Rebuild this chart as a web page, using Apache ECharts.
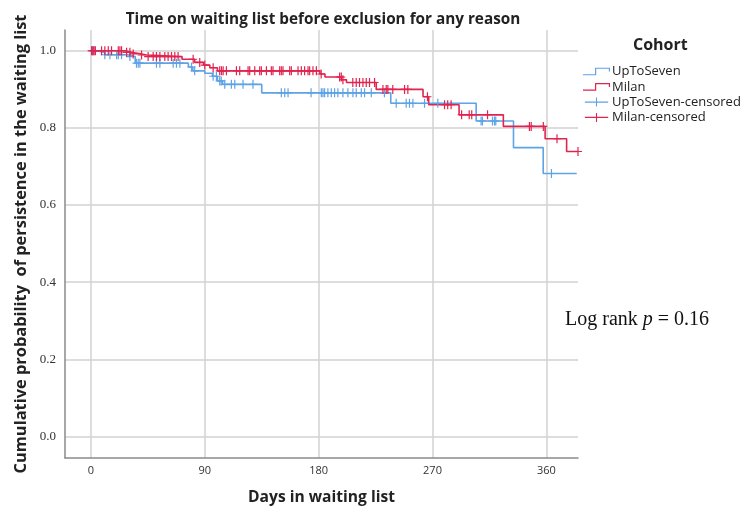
<!DOCTYPE html>
<html>
<head>
<meta charset="utf-8">
<script src="https://cdn.jsdelivr.net/npm/echarts@6/dist/echarts.min.js"></script>
<style>html,body{margin:0;padding:0;background:#fff;}#c{width:745px;height:508px;}</style>
</head>
<body>
<div id="c"></div>
<script>
// ---- data ----
const upTimes  = [0, 4.5, 11, 29, 35, 77, 80.5, 90, 96, 100, 104, 135, 237, 304.5, 334, 357.5, 384];
const upSurv   = [1.0, 0.996, 0.990, 0.985, 0.968, 0.958, 0.948, 0.942, 0.934, 0.922, 0.913, 0.891, 0.864, 0.818, 0.749, 0.682, 0.682];
const milanTimes = [0, 27, 32, 39, 44, 72, 82, 89, 94, 100, 181, 185, 198, 202, 225.5, 262.5, 267, 291, 326, 359, 376, 385];
const milanSurv  = [1.0, 0.996, 0.992, 0.989, 0.985, 0.978, 0.970, 0.963, 0.956, 0.948, 0.940, 0.932, 0.925, 0.918, 0.900, 0.881, 0.860, 0.834, 0.804, 0.772, 0.739, 0.739];
const upCensor = [1, 2, 11, 15, 20.3, 21.6, 24.2, 30.8, 36, 37.4, 38.7, 51.8, 54.5, 65, 67.6, 70.3, 79.5, 82, 96.6, 99.2, 101.8, 103, 105.8, 111, 113.7, 120.2, 128.1, 150.5, 153.2, 155.8, 174, 182.1, 183.4, 184.7, 187.3, 190, 192.6, 195.2, 199.2, 203.1, 207.1, 209.7, 213.7, 216.3, 221.6, 232, 241.3, 249.2, 251.8, 254.5, 263.7, 274.2, 308.4, 309.5, 317.4, 319, 320, 364];
const milanCensor = [0.5, 1.5, 2.5, 3.5, 8.4, 11, 13.7, 16.3, 21.6, 22.9, 24.2, 28.2, 30.8, 33.4, 40, 45.2, 49.2, 51.8, 54.5, 58.4, 61, 63.7, 66.3, 68.9, 80.8, 86, 90, 96.6, 101.8, 103.2, 104.5, 107.1, 115, 117.6, 124.2, 125.5, 129.5, 133.4, 134.7, 138.7, 142.6, 143.9, 149.2, 150.5, 151.8, 157.1, 158.4, 163.7, 166.3, 168.9, 171.6, 172.9, 175.5, 178.2, 182, 196.6, 197.9, 199.2, 207, 209.7, 212.3, 215, 217.6, 220.2, 224.2, 230.8, 233.4, 234.7, 238.6, 247.9, 250.5, 266, 279.5, 282, 284.7, 293, 299, 301, 313.5, 346.6, 348, 357.6, 368.4, 385];
const xTicks = [0, 90, 180, 270, 360];
const yTicks = [0.0, 0.2, 0.4, 0.6, 0.8, 1.0];
const seriesNames = ['UpToSeven', 'Milan', 'UpToSeven-censored', 'Milan-censored'];

// ---- helpers ----
function survAt(times, vals, t) {
  let v = vals[0];
  for (let i = 0; i < times.length; i++) { if (times[i] <= t) v = vals[i]; else break; }
  return v;
}
const zip = (a, b) => a.map((t, i) => [t, b[i]]);

const BLUE = '#5ea3e6';
const RED = '#e0244f';
const stepIcon = 'path://M0,7.2H12.2V0.6H27.4V4.6H26.2V1.8H13.4V8.4H0Z';
const plusIcon = 'path://M0,4.4H12.4V0H13.6V4.4H26V5.6H13.6V10H12.4V5.6H0Z';
const censorSym = 'path://M3.4,0H4.6V4.4H8V5.6H4.6V10H3.4V5.6H0V4.4H3.4Z';

const chart = echarts.init(document.getElementById('c'), null, {renderer: 'canvas'});
chart.setOption({
  animation: false,
  backgroundColor: '#fff',
  title: {
    text: 'Time on waiting list before exclusion for any reason',
    left: 318, top: 7, textAlign: 'center',
    textStyle: {fontFamily: 'Open Sans', fontWeight: 'bold', fontSize: 15.3, color: '#222'}
  },
  grid: {left: 65, right: 167, top: 30, bottom: 50, containLabel: false, outerBoundsMode: 'none'},
  legend: {
    orient: 'vertical', left: 578, top: 60, itemGap: 2.3, itemWidth: 27, itemHeight: 9,
    textStyle: {fontFamily: 'Open Sans', fontSize: 13, color: '#222', padding: [0, 0, 0, -3]},
    data: [
      {name: seriesNames[0], icon: stepIcon},
      {name: seriesNames[1], icon: stepIcon},
      {name: seriesNames[2], icon: plusIcon},
      {name: seriesNames[3], icon: plusIcon}
    ]
  },
  graphic: [
    {type: 'text', left: 633, top: 37, style: {text: 'Cohort', font: 'bold 16px "Open Sans"', fill: '#222'}},
    {type: 'text', left: 565, top: 310, style: {
      text: '{a|Log rank }{i|p}{a| = 0.16}',
      rich: {a: {fontFamily: 'Liberation Serif', fontSize: 20, fill: '#111'},
             i: {fontFamily: 'Liberation Serif', fontStyle: 'italic', fontSize: 20, fill: '#111'}}
    }}
  ],
  xAxis: {
    type: 'value', min: -20.5, max: 385,
    name: 'Days in waiting list', nameLocation: 'middle', nameGap: 32,
    nameTextStyle: {fontFamily: 'Open Sans', fontWeight: 'bold', fontSize: 15.6, color: '#222'},
    axisLine: {show: true, onZero: false, lineStyle: {color: '#8a8a8a', width: 1.5}},
    axisTick: {show: false, customValues: xTicks},
    axisLabel: {customValues: xTicks, margin: 7, fontFamily: 'Open Sans', fontSize: 11, color: '#333'},
    splitLine: {show: true, lineStyle: {color: '#d2d2d2', width: 1.5}}
  },
  yAxis: {
    type: 'value', min: -0.056, max: 1.054,
    name: 'Cumulative probability  of persistence in the waiting list', nameLocation: 'middle', nameGap: 34,
    nameTextStyle: {fontFamily: 'Open Sans', fontWeight: 'bold', fontSize: 16.4, color: '#222'},
    axisLine: {show: true, onZero: false, lineStyle: {color: '#8a8a8a', width: 1.5}},
    axisTick: {show: false, customValues: yTicks},
    axisLabel: {customValues: yTicks, margin: 9, fontFamily: 'Liberation Serif', fontSize: 13, color: '#333',
      padding: [4, 0, 0, 0], formatter: v => v.toFixed(1)},
    splitLine: {show: true, lineStyle: {color: '#d2d2d2', width: 1.5}}
  },
  series: [
    {name: seriesNames[0], type: 'line', step: 'end', data: zip(upTimes, upSurv), showSymbol: false,
     color: BLUE, lineStyle: {width: 1.6, color: BLUE}, itemStyle: {color: BLUE}, z: 3},
    {name: seriesNames[1], type: 'line', step: 'end', data: zip(milanTimes, milanSurv), showSymbol: false,
     color: RED, lineStyle: {width: 1.6, color: RED}, itemStyle: {color: RED}, z: 4},
    {name: seriesNames[2], type: 'scatter', symbol: censorSym, symbolSize: [8, 9],
     data: upCensor.map(t => [t, survAt(upTimes, upSurv, t)]), itemStyle: {color: BLUE, opacity: 1}, z: 5},
    {name: seriesNames[3], type: 'scatter', symbol: censorSym, symbolSize: [8, 9],
     data: milanCensor.map(t => [t, survAt(milanTimes, milanSurv, t)]), itemStyle: {color: RED, opacity: 1}, z: 6}
  ]
});
</script>
</body>
</html>
